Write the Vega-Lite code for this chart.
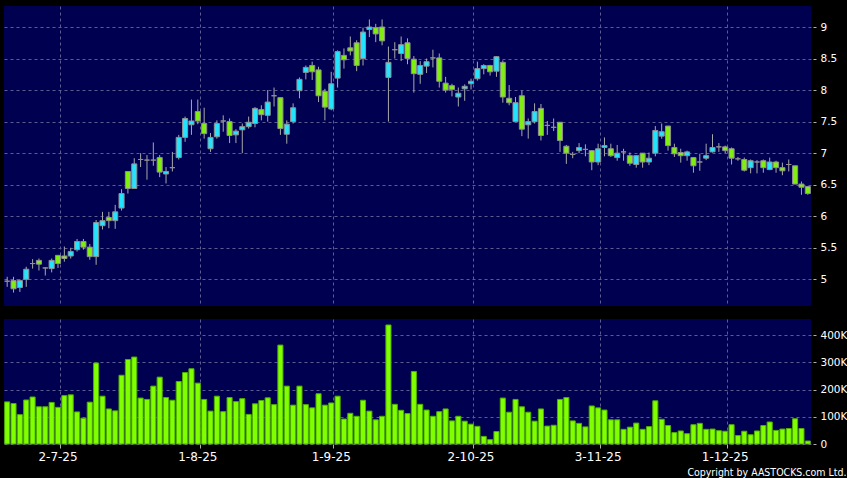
{
  "$schema": "https://vega.github.io/schema/vega-lite/v6.json",
  "background": "#000000",
  "padding": {"left": 4, "top": 6, "right": 0, "bottom": 0},
  "autosize": {"type": "pad"},
  "spacing": 13,
  "config": {
    "view": {"fill": "#000050", "stroke": null},
    "font": "DejaVu Sans",
    "axis": {
      "gridColor": "#5c5c90",
      "gridDash": [3, 3],
      "gridWidth": 1,
      "gridOpacity": 1,
      "labelColor": "#ffffff",
      "labelFont": "DejaVu Sans",
      "labelOverlap": false,
      "tickColor": "#b0b0b0",
      "domain": false
    }
  },
  "data": {"values": [
    {"d":"2025-06-19","o":4.97,"h":5.04,"l":4.88,"c":4.97,"v":155000},
    {"d":"2025-06-20","o":4.98,"h":5.04,"l":4.79,"c":4.85,"v":149000},
    {"d":"2025-06-23","o":4.87,"h":5.0,"l":4.8,"c":4.98,"v":108000},
    {"d":"2025-06-24","o":5.0,"h":5.2,"l":4.88,"c":5.16,"v":162000},
    {"d":"2025-06-25","o":5.25,"h":5.32,"l":5.17,"c":5.25,"v":173000},
    {"d":"2025-06-26","o":5.3,"h":5.33,"l":5.14,"c":5.24,"v":137000},
    {"d":"2025-06-27","o":5.18,"h":5.19,"l":5.06,"c":5.18,"v":137000},
    {"d":"2025-06-30","o":5.17,"h":5.33,"l":5.11,"c":5.3,"v":153000},
    {"d":"2025-07-02","o":5.38,"h":5.38,"l":5.18,"c":5.25,"v":135000},
    {"d":"2025-07-03","o":5.37,"h":5.52,"l":5.28,"c":5.33,"v":178000},
    {"d":"2025-07-04","o":5.37,"h":5.5,"l":5.33,"c":5.44,"v":181000},
    {"d":"2025-07-07","o":5.47,"h":5.64,"l":5.44,"c":5.6,"v":118000},
    {"d":"2025-07-08","o":5.6,"h":5.64,"l":5.47,"c":5.51,"v":95000},
    {"d":"2025-07-09","o":5.51,"h":5.56,"l":5.31,"c":5.36,"v":154000},
    {"d":"2025-07-10","o":5.36,"h":5.94,"l":5.23,"c":5.9,"v":298000},
    {"d":"2025-07-11","o":5.85,"h":6.07,"l":5.79,"c":5.93,"v":176000},
    {"d":"2025-07-14","o":5.98,"h":6.07,"l":5.81,"c":5.93,"v":129000},
    {"d":"2025-07-15","o":5.93,"h":6.18,"l":5.8,"c":6.07,"v":122000},
    {"d":"2025-07-16","o":6.13,"h":6.43,"l":6.09,"c":6.36,"v":253000},
    {"d":"2025-07-17","o":6.71,"h":6.71,"l":6.36,"c":6.44,"v":311000},
    {"d":"2025-07-18","o":6.44,"h":6.92,"l":6.44,"c":6.83,"v":320000},
    {"d":"2025-07-21","o":6.9,"h":7.0,"l":6.78,"c":6.9,"v":169000},
    {"d":"2025-07-22","o":6.89,"h":6.97,"l":6.58,"c":6.89,"v":164000},
    {"d":"2025-07-23","o":6.89,"h":7.17,"l":6.8,"c":6.89,"v":213000},
    {"d":"2025-07-24","o":6.93,"h":6.97,"l":6.62,"c":6.7,"v":246000},
    {"d":"2025-07-25","o":6.67,"h":6.78,"l":6.52,"c":6.71,"v":171000},
    {"d":"2025-07-28","o":6.77,"h":7.02,"l":6.71,"c":6.77,"v":161000},
    {"d":"2025-07-29","o":6.93,"h":7.29,"l":6.9,"c":7.25,"v":230000},
    {"d":"2025-07-30","o":7.25,"h":7.58,"l":7.18,"c":7.55,"v":263000},
    {"d":"2025-07-31","o":7.45,"h":7.85,"l":7.29,"c":7.51,"v":277000},
    {"d":"2025-08-01","o":7.66,"h":7.85,"l":7.46,"c":7.51,"v":224000},
    {"d":"2025-08-04","o":7.47,"h":7.72,"l":7.23,"c":7.31,"v":164000},
    {"d":"2025-08-05","o":7.07,"h":7.32,"l":7.02,"c":7.25,"v":121000},
    {"d":"2025-08-06","o":7.26,"h":7.52,"l":7.23,"c":7.47,"v":176000},
    {"d":"2025-08-07","o":7.51,"h":7.6,"l":7.34,"c":7.51,"v":119000},
    {"d":"2025-08-08","o":7.5,"h":7.55,"l":7.16,"c":7.28,"v":171000},
    {"d":"2025-08-11","o":7.29,"h":7.38,"l":7.16,"c":7.35,"v":156000},
    {"d":"2025-08-12","o":7.37,"h":7.47,"l":7.0,"c":7.42,"v":167000},
    {"d":"2025-08-13","o":7.42,"h":7.58,"l":7.39,"c":7.49,"v":109000},
    {"d":"2025-08-14","o":7.47,"h":7.73,"l":7.41,"c":7.71,"v":148000},
    {"d":"2025-08-15","o":7.69,"h":7.76,"l":7.52,"c":7.61,"v":160000},
    {"d":"2025-08-18","o":7.6,"h":8.0,"l":7.5,"c":7.81,"v":170000},
    {"d":"2025-08-19","o":7.91,"h":8.04,"l":7.74,"c":7.91,"v":145000},
    {"d":"2025-08-20","o":7.88,"h":7.88,"l":7.29,"c":7.39,"v":364000},
    {"d":"2025-08-21","o":7.3,"h":7.52,"l":7.15,"c":7.46,"v":213000},
    {"d":"2025-08-22","o":7.5,"h":7.79,"l":7.47,"c":7.72,"v":143000},
    {"d":"2025-08-25","o":7.99,"h":8.2,"l":7.87,"c":8.17,"v":213000},
    {"d":"2025-08-26","o":8.28,"h":8.39,"l":8.17,"c":8.36,"v":145000},
    {"d":"2025-08-27","o":8.39,"h":8.45,"l":8.16,"c":8.29,"v":133000},
    {"d":"2025-08-28","o":8.32,"h":8.37,"l":7.81,"c":7.91,"v":185000},
    {"d":"2025-08-29","o":7.98,"h":8.02,"l":7.52,"c":7.73,"v":143000},
    {"d":"2025-09-01","o":7.7,"h":8.29,"l":7.68,"c":8.1,"v":151000},
    {"d":"2025-09-02","o":8.19,"h":8.63,"l":8.04,"c":8.61,"v":176000},
    {"d":"2025-09-03","o":8.55,"h":8.66,"l":8.34,"c":8.48,"v":92000},
    {"d":"2025-09-04","o":8.67,"h":8.85,"l":8.55,"c":8.62,"v":113000},
    {"d":"2025-09-05","o":8.75,"h":8.79,"l":8.3,"c":8.39,"v":102000},
    {"d":"2025-09-08","o":8.5,"h":8.99,"l":8.39,"c":8.92,"v":161000},
    {"d":"2025-09-09","o":8.96,"h":9.12,"l":8.84,"c":9.0,"v":121000},
    {"d":"2025-09-10","o":8.99,"h":9.05,"l":8.76,"c":8.89,"v":89000},
    {"d":"2025-09-11","o":9.0,"h":9.12,"l":8.71,"c":8.78,"v":102000},
    {"d":"2025-09-12","o":8.2,"h":8.69,"l":7.5,"c":8.44,"v":438000},
    {"d":"2025-09-15","o":8.64,"h":8.76,"l":8.5,"c":8.64,"v":146000},
    {"d":"2025-09-16","o":8.58,"h":8.85,"l":8.46,"c":8.72,"v":124000},
    {"d":"2025-09-17","o":8.75,"h":8.82,"l":8.41,"c":8.5,"v":112000},
    {"d":"2025-09-18","o":8.49,"h":8.54,"l":7.96,"c":8.26,"v":267000},
    {"d":"2025-09-19","o":8.25,"h":8.46,"l":8.1,"c":8.39,"v":146000},
    {"d":"2025-09-22","o":8.38,"h":8.5,"l":8.27,"c":8.45,"v":125000},
    {"d":"2025-09-23","o":8.51,"h":8.64,"l":8.36,"c":8.51,"v":102000},
    {"d":"2025-09-24","o":8.51,"h":8.58,"l":8.04,"c":8.14,"v":119000},
    {"d":"2025-09-25","o":8.11,"h":8.21,"l":7.96,"c":8.0,"v":129000},
    {"d":"2025-09-26","o":8.07,"h":8.1,"l":7.9,"c":8.01,"v":85000},
    {"d":"2025-09-29","o":7.89,"h":8.04,"l":7.74,"c":7.95,"v":102000},
    {"d":"2025-09-30","o":8.02,"h":8.09,"l":7.83,"c":8.06,"v":84000},
    {"d":"2025-10-02","o":8.1,"h":8.18,"l":8.01,"c":8.14,"v":73000},
    {"d":"2025-10-03","o":8.18,"h":8.45,"l":8.15,"c":8.34,"v":65000},
    {"d":"2025-10-06","o":8.34,"h":8.41,"l":8.25,"c":8.39,"v":28000},
    {"d":"2025-10-08","o":8.39,"h":8.4,"l":8.23,"c":8.29,"v":16000},
    {"d":"2025-10-09","o":8.3,"h":8.54,"l":8.21,"c":8.53,"v":46000},
    {"d":"2025-10-10","o":8.44,"h":8.47,"l":7.8,"c":7.89,"v":169000},
    {"d":"2025-10-13","o":7.87,"h":8.08,"l":7.76,"c":7.8,"v":117000},
    {"d":"2025-10-14","o":7.5,"h":7.89,"l":7.5,"c":7.8,"v":164000},
    {"d":"2025-10-15","o":7.91,"h":7.99,"l":7.27,"c":7.38,"v":137000},
    {"d":"2025-10-16","o":7.45,"h":7.55,"l":7.23,"c":7.5,"v":117000},
    {"d":"2025-10-17","o":7.5,"h":7.79,"l":7.47,"c":7.66,"v":84000},
    {"d":"2025-10-20","o":7.71,"h":7.78,"l":7.2,"c":7.28,"v":129000},
    {"d":"2025-10-21","o":7.44,"h":7.51,"l":7.29,"c":7.44,"v":66000},
    {"d":"2025-10-22","o":7.41,"h":7.55,"l":7.35,"c":7.41,"v":69000},
    {"d":"2025-10-23","o":7.49,"h":7.49,"l":7.02,"c":7.2,"v":164000},
    {"d":"2025-10-24","o":7.11,"h":7.13,"l":6.83,"c":7.0,"v":171000},
    {"d":"2025-10-27","o":6.98,"h":7.02,"l":6.92,"c":6.98,"v":85000},
    {"d":"2025-10-28","o":7.04,"h":7.16,"l":7.0,"c":7.09,"v":76000},
    {"d":"2025-10-30","o":7.06,"h":7.14,"l":6.95,"c":7.06,"v":63000},
    {"d":"2025-10-31","o":7.04,"h":7.04,"l":6.73,"c":6.86,"v":140000},
    {"d":"2025-11-03","o":6.86,"h":7.15,"l":6.81,"c":7.07,"v":133000},
    {"d":"2025-11-04","o":7.09,"h":7.25,"l":6.95,"c":7.12,"v":125000},
    {"d":"2025-11-05","o":7.07,"h":7.15,"l":6.94,"c":6.96,"v":89000},
    {"d":"2025-11-06","o":6.93,"h":7.13,"l":6.88,"c":7.0,"v":89000},
    {"d":"2025-11-07","o":7.02,"h":7.07,"l":6.88,"c":7.02,"v":54000},
    {"d":"2025-11-10","o":6.96,"h":7.01,"l":6.8,"c":6.84,"v":62000},
    {"d":"2025-11-11","o":6.82,"h":6.97,"l":6.77,"c":6.96,"v":77000},
    {"d":"2025-11-12","o":7.0,"h":7.0,"l":6.77,"c":6.86,"v":54000},
    {"d":"2025-11-13","o":6.86,"h":7.01,"l":6.81,"c":6.92,"v":64000},
    {"d":"2025-11-14","o":7.0,"h":7.43,"l":6.95,"c":7.36,"v":159000},
    {"d":"2025-11-17","o":7.27,"h":7.47,"l":7.23,"c":7.34,"v":91000},
    {"d":"2025-11-18","o":7.43,"h":7.43,"l":7.04,"c":7.12,"v":68000},
    {"d":"2025-11-19","o":7.09,"h":7.15,"l":6.94,"c":6.99,"v":42000},
    {"d":"2025-11-20","o":7.01,"h":7.07,"l":6.85,"c":6.96,"v":48000},
    {"d":"2025-11-21","o":6.96,"h":7.04,"l":6.88,"c":7.02,"v":38000},
    {"d":"2025-11-24","o":6.93,"h":6.94,"l":6.69,"c":6.8,"v":71000},
    {"d":"2025-11-25","o":6.86,"h":6.99,"l":6.72,"c":6.86,"v":76000},
    {"d":"2025-11-26","o":6.92,"h":7.15,"l":6.89,"c":6.96,"v":54000},
    {"d":"2025-11-27","o":7.02,"h":7.3,"l":7.01,"c":7.09,"v":55000},
    {"d":"2025-11-28","o":7.1,"h":7.16,"l":7.02,"c":7.1,"v":49000},
    {"d":"2025-12-01","o":7.1,"h":7.12,"l":7.0,"c":7.04,"v":47000},
    {"d":"2025-12-02","o":7.07,"h":7.09,"l":6.82,"c":6.92,"v":71000},
    {"d":"2025-12-03","o":6.91,"h":6.94,"l":6.88,"c":6.91,"v":31000},
    {"d":"2025-12-04","o":6.9,"h":6.93,"l":6.71,"c":6.73,"v":47000},
    {"d":"2025-12-05","o":6.77,"h":6.9,"l":6.68,"c":6.88,"v":34000},
    {"d":"2025-12-08","o":6.86,"h":6.89,"l":6.68,"c":6.86,"v":48000},
    {"d":"2025-12-09","o":6.88,"h":6.9,"l":6.69,"c":6.77,"v":68000},
    {"d":"2025-12-10","o":6.74,"h":6.93,"l":6.73,"c":6.86,"v":81000},
    {"d":"2025-12-11","o":6.86,"h":6.88,"l":6.69,"c":6.77,"v":50000},
    {"d":"2025-12-12","o":6.77,"h":6.85,"l":6.65,"c":6.72,"v":55000},
    {"d":"2025-12-15","o":6.82,"h":6.9,"l":6.71,"c":6.82,"v":57000},
    {"d":"2025-12-16","o":6.8,"h":6.8,"l":6.51,"c":6.51,"v":93000},
    {"d":"2025-12-17","o":6.51,"h":6.55,"l":6.34,"c":6.46,"v":57000},
    {"d":"2025-12-18","o":6.47,"h":6.48,"l":6.34,"c":6.36,"v":11000}
  ]},
  "vconcat": [
    {
      "width": 807,
      "height": 300,
      "encoding": {
        "x": {
          "field": "d", "type": "ordinal",
          "scale": {"paddingInner": 0.2, "paddingOuter": 0.1},
          "axis": {
            "values": ["2025-07-02","2025-08-01","2025-09-01","2025-10-02","2025-11-03","2025-12-01"],
            "labels": false, "ticks": false, "domain": false, "title": null,
            "grid": true, "bandPosition": 1, "minExtent": 0, "maxExtent": 0
          }
        }
      },
      "layer": [
        {
          "mark": {"type": "rule", "color": "#a8a8a8", "strokeWidth": 1},
          "encoding": {
            "y": {
              "field": "l", "type": "quantitative",
              "scale": {"domain": [4.577, 9.333], "nice": false, "zero": false},
              "axis": {
                "orient": "right", "values": [5,5.5,6,6.5,7,7.5,8,8.5,9],
                "format": ".1~f", "title": null, "grid": true,
                "tickSize": 3, "offset": 2, "labelPadding": 4,
                "labelFontSize": 10.5, "labelOverlap": false
              }
            },
            "y2": {"field": "h"}
          }
        },
        {
          "mark": {"type": "bar", "stroke": "#909090", "strokeWidth": 1},
          "encoding": {
            "y": {
              "field": "o", "type": "quantitative",
              "scale": {"domain": [4.577, 9.333], "nice": false, "zero": false},
              "axis": {
                "orient": "right", "values": [5,5.5,6,6.5,7,7.5,8,8.5,9],
                "format": ".1~f", "title": null, "grid": true,
                "tickSize": 3, "offset": 2, "labelPadding": 4,
                "labelFontSize": 10.5, "labelOverlap": false
              }
            },
            "y2": {"field": "c"},
            "color": {
              "condition": [
                {"test": "datum.c > datum.o", "value": "#22e4ff"},
                {"test": "datum.c < datum.o", "value": "#80ee10"}
              ],
              "value": "#a0a0a0"
            }
          }
        }
      ]
    },
    {
      "width": 807,
      "height": 125,
      "mark": {"type": "bar", "fill": "#80ff00", "stroke": "#4fae00", "strokeWidth": 1},
      "encoding": {
        "x": {
          "field": "d", "type": "ordinal",
          "scale": {"paddingInner": 0.2, "paddingOuter": 0.1},
          "axis": {
            "values": ["2025-07-02","2025-08-01","2025-09-01","2025-10-02","2025-11-03","2025-12-01"],
            "labelExpr": "datum.value == '2025-07-02' ? '2-7-25' : datum.value == '2025-08-01' ? '1-8-25' : datum.value == '2025-09-01' ? '1-9-25' : datum.value == '2025-10-02' ? '2-10-25' : datum.value == '2025-11-03' ? '3-11-25' : datum.value == '2025-12-01' ? '1-12-25' : ''",
            "labelAngle": 0, "labelFontSize": 12, "labelPadding": 3,
            "tickSize": 4, "grid": true, "bandPosition": 1, "domain": false,
            "title": "Copyright by AASTOCKS.com Ltd.",
            "titleFont": "DejaVu Sans Condensed, DejaVu Sans",
            "titleFontSize": 10.5, "titleFontWeight": "normal", "titleColor": "#ffffff",
            "titleX": 842, "titleY": 28, "titleAlign": "right", "titleBaseline": "middle", "titleAnchor": null
          }
        },
        "y": {
          "field": "v", "type": "quantitative",
          "scale": {"domain": [0, 460000], "nice": false},
          "axis": {
            "orient": "right", "values": [0, 100000, 200000, 300000, 400000],
            "labelExpr": "datum.value == 0 ? '0' : format(datum.value / 1000, 'd') + 'K'",
            "title": null, "grid": true, "tickSize": 3, "offset": 2, "labelPadding": 4,
            "labelFontSize": 10.5, "labelOverlap": false
          }
        }
      }
    }
  ]
}
